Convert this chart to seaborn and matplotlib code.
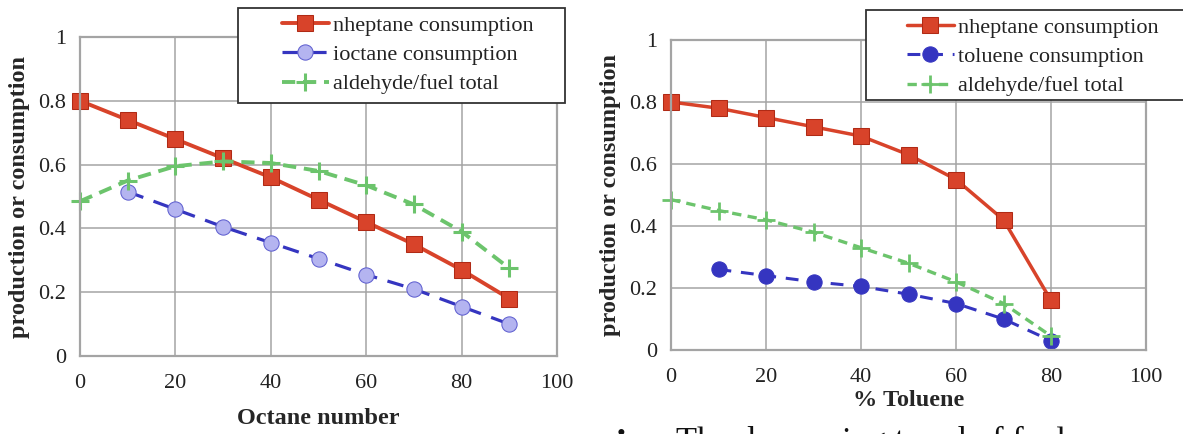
import numpy as np
import pandas as pd
import matplotlib
matplotlib.use("Agg")
import matplotlib.pyplot as plt
import seaborn as sns
from matplotlib.patches import Rectangle
from matplotlib.ticker import MultipleLocator

# Left panel: blends of n-heptane / iso-octane vs octane number
octane_x = [0, 10, 20, 30, 40, 50, 60, 70, 80, 90]
octane_nheptane = [0.80, 0.74, 0.68, 0.62, 0.56, 0.49, 0.42, 0.35, 0.27, 0.18]
ioctane_x = [10, 20, 30, 40, 50, 60, 70, 80, 90]
ioctane_cons = [0.515, 0.46, 0.405, 0.355, 0.305, 0.255, 0.21, 0.155, 0.10]
octane_aldehyde = [0.485, 0.55, 0.595, 0.61, 0.605, 0.58, 0.535, 0.475, 0.39, 0.275]

# Right panel: n-heptane / toluene blends vs % toluene
toluene_x = [0, 10, 20, 30, 40, 50, 60, 70, 80]
toluene_nheptane = [0.80, 0.78, 0.75, 0.72, 0.69, 0.63, 0.55, 0.42, 0.16]
tol_cons_x = [10, 20, 30, 40, 50, 60, 70, 80]
toluene_cons = [0.26, 0.24, 0.22, 0.205, 0.18, 0.15, 0.10, 0.03]
toluene_aldehyde = [0.485, 0.45, 0.42, 0.38, 0.33, 0.28, 0.22, 0.15, 0.045]

x_ticks = [0, 20, 40, 60, 80, 100]
y_ticks = [0, 0.2, 0.4, 0.6, 0.8, 1.0]
y_tick_labels = ["0", "0.2", "0.4", "0.6", "0.8", "1"]

sns.set_style("white")
plt.rcParams["font.family"] = ["Liberation Serif", "DejaVu Serif"]

RED = "#d8432a"
RED_EDGE = "#b02a15"
BLUE = "#3535c0"
LAV = "#b4b4f0"
GREEN = "#6cc46c"
GRID = "#a4a4a4"

W, H = 1183, 434
fig = plt.figure(figsize=(W / 100, H / 100), dpi=100)
ax1 = fig.add_axes([80 / W, 1 - 356 / H, 477 / W, 319 / H])
ax2 = fig.add_axes([671 / W, 1 - 350 / H, 475 / W, 310 / H])


def style_axis(ax, xlabel, labelpad):
    ax.set_xlim(0, 100)
    ax.set_ylim(0, 1)
    ax.set_xticks(x_ticks)
    ax.set_xticklabels([str(v) for v in x_ticks])
    ax.set_yticks(y_ticks)
    ax.set_yticklabels(y_tick_labels)
    ax.yaxis.set_minor_locator(MultipleLocator(0.1))
    ax.grid(True, which="major", color=GRID, linewidth=1.1)
    ax.tick_params(axis="both", which="major", labelsize=16, length=5,
                   color=GRID, direction="out", pad=5, labelcolor="#222222")
    ax.tick_params(axis="x", which="major", pad=8)
    ax.tick_params(axis="y", which="minor", length=3, color=GRID, direction="in")
    for s in ax.spines.values():
        s.set_color(GRID)
        s.set_linewidth(1.6)
    ax.set_ylabel("production or consumption", fontsize=17.5, fontweight="bold",
                  labelpad=6)
    ax.set_xlabel(xlabel, fontsize=17.5, fontweight="bold", labelpad=labelpad)
    ax.set_axisbelow(True)
    if ax.get_legend() is not None:
        ax.get_legend().remove()


# left panel
sns.lineplot(x=octane_x, y=octane_nheptane, ax=ax1, color=RED, linewidth=2.8,
             marker="s", markersize=11, markerfacecolor=RED,
             markeredgecolor=RED_EDGE, label="nheptane consumption", clip_on=False)
sns.lineplot(x=ioctane_x, y=ioctane_cons, ax=ax1, color=BLUE, linewidth=2.3,
             linestyle=(0, (5.2, 3.4)),
             marker="o", markersize=11, markerfacecolor=LAV,
             markeredgecolor="#6060d0", label="ioctane consumption", clip_on=False)
sns.lineplot(x=octane_x, y=octane_aldehyde, ax=ax1, color=GREEN, linewidth=2.8,
             linestyle=(0, (3.4, 2.0)),
             marker="+", markersize=13, markeredgewidth=2.2,
             markeredgecolor=GREEN, label="aldehyde/fuel total", clip_on=False)
style_axis(ax1, "Octane number", 11)

# right panel
sns.lineplot(x=toluene_x, y=toluene_nheptane, ax=ax2, color=RED, linewidth=2.5,
             marker="s", markersize=11, markerfacecolor=RED,
             markeredgecolor=RED_EDGE, label="nheptane consumption", clip_on=False)
sns.lineplot(x=tol_cons_x, y=toluene_cons, ax=ax2, color=BLUE, linewidth=2.2,
             linestyle=(0, (4.2, 3.2)),
             marker="o", markersize=11, markerfacecolor=BLUE,
             markeredgecolor=BLUE, label="toluene consumption", clip_on=False)
sns.lineplot(x=toluene_x, y=toluene_aldehyde, ax=ax2, color=GREEN, linewidth=2.4,
             linestyle=(0, (2.8, 1.9)),
             marker="+", markersize=13, markeredgewidth=2.0,
             markeredgecolor=GREEN, label="aldehyde/fuel total", clip_on=False)
style_axis(ax2, "% Toluene", 2)

# legend boxes (square frames), with the entries laid inside them
for ax, box, anchor in (
    (ax1, (238, 8, 327, 95), (282, 15)),
    (ax2, (866, 10, 340, 90), (907, 17)),
):
    bx, by, bw, bh = box
    fig.patches.append(Rectangle((bx / W, 1 - (by + bh) / H), bw / W, bh / H,
                                 transform=fig.transFigure, facecolor="white",
                                 edgecolor="#333333", linewidth=1.3, zorder=4))
    handles = ax.lines[:3]
    labels = [h.get_label() for h in handles]
    leg = fig.legend(handles, labels, loc="upper left",
                     bbox_to_anchor=(anchor[0] / W, 1 - anchor[1] / H),
                     fontsize=16, frameon=False, handlelength=2.1,
                     handletextpad=0.2, labelspacing=0.4, borderpad=0,
                     borderaxespad=0)
    leg.set_zorder(5)
    for t in leg.get_texts():
        t.set_color("#222222")

# caption text running below the figure edge
fig.text(617 / W, 1 - 441 / H, "\u2022", fontsize=18, va="baseline", ha="left",
         color="#111111")
fig.text(676 / W, 1 - 450 / H, "The decreasing trend of fuel", fontsize=24.8,
         va="baseline", ha="left", color="#111111")

fig.savefig("out.png", dpi=100, facecolor="white")
